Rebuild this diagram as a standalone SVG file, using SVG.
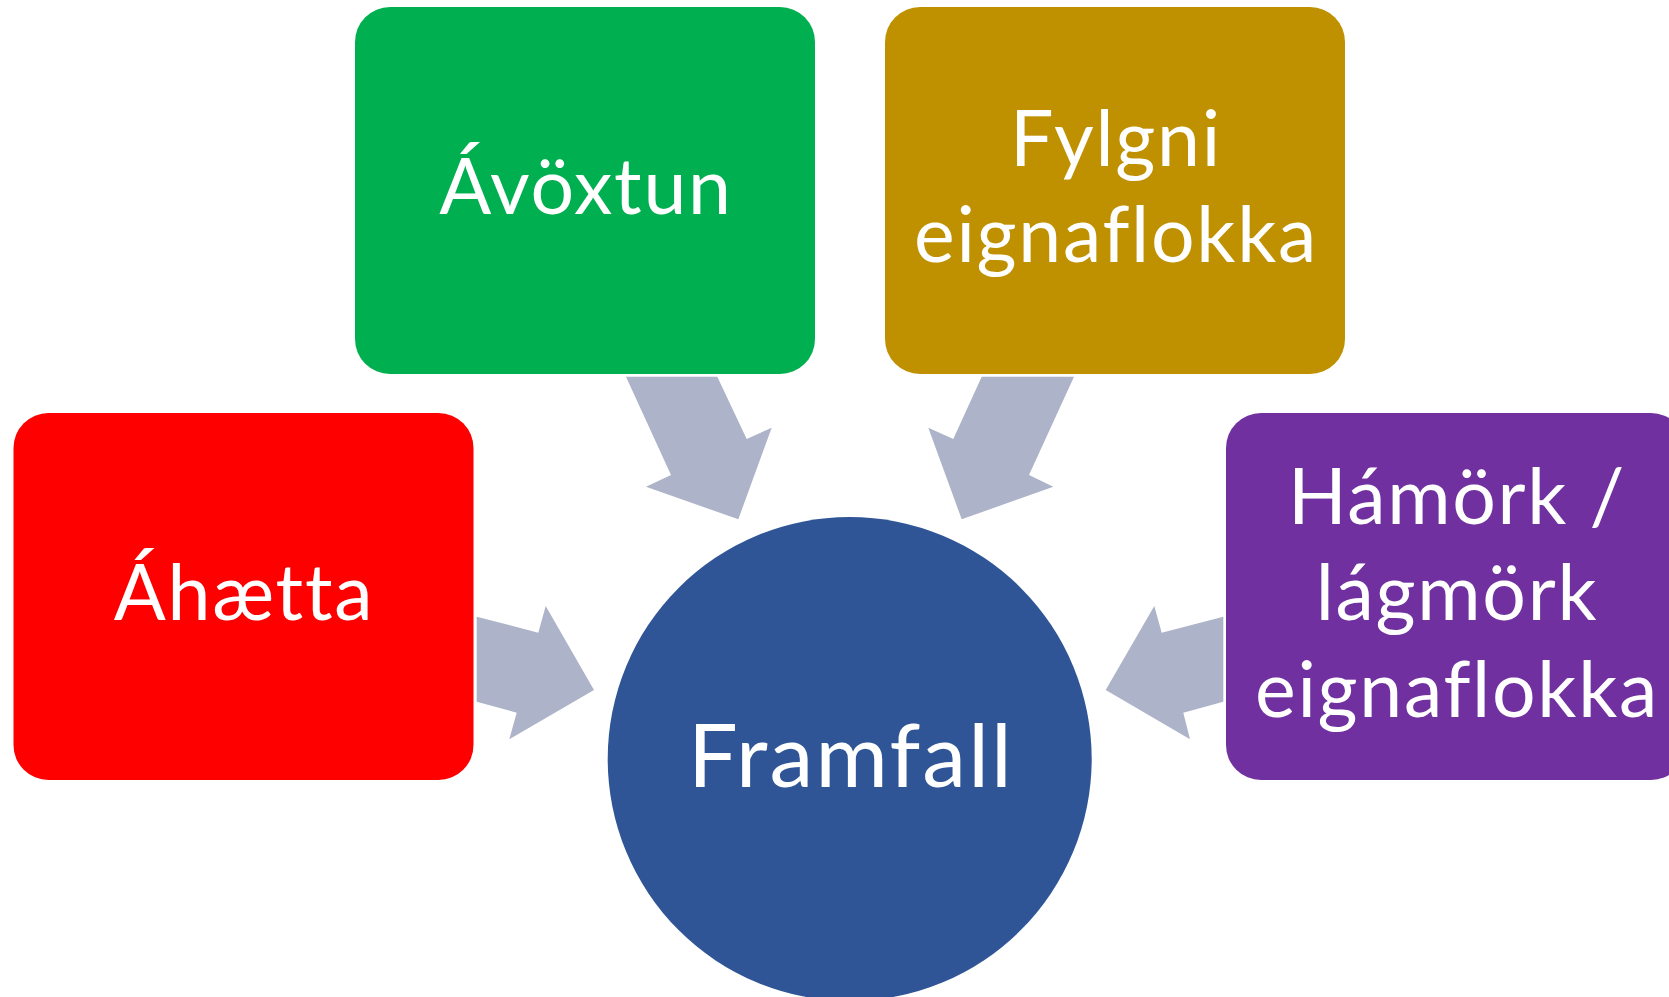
<svg xmlns="http://www.w3.org/2000/svg" width="1669" height="997" viewBox="0 0 1669 997">
<style>
.lbl{font-family:Lato,"Open Sans","Liberation Sans",sans-serif;fill:#ffffff;text-anchor:middle;font-size:77px;letter-spacing:1.7px}
.big{font-size:88px;letter-spacing:2.2px}
.arr{fill:#ADB3C8}
</style>
<rect width="1669" height="997" fill="#ffffff"/>
<g id="connectors">
<polygon class="arr" points="626,376.7 717.3,376.7 746.7,439 771.7,427.7 738.3,519.3 646,486.7 671,475"/>
<polygon class="arr" points="1074,376.7 981.7,376.7 953.3,439 928.3,427.7 961.7,519.3 1053.3,486.7 1029,475"/>
<polygon class="arr" points="476.7,616.7 538.3,632.7 545.7,606 594,690 509.3,739.3 516.7,712.7 476.7,701.7"/>
<polygon class="arr" points="1223.3,616.7 1161.7,632.7 1154.3,606 1105.7,690 1190,739.3 1183.3,712.7 1223.3,701.7"/>
</g>
<g id="node-avoxtun">
<rect x="355" y="7" width="460" height="367" rx="35" fill="#00B050"/>
<text class="lbl" x="586" y="214">Ávöxtun</text>
</g>
<g id="node-fylgni">
<rect x="885" y="7" width="460" height="367" rx="35" fill="#BF9000"/>
<text class="lbl" x="1116" y="166">Fylgni</text>
<text class="lbl" x="1116" y="262">eignaflokka</text>
</g>
<g id="node-ahaetta">
<rect x="13.5" y="413" width="460" height="367" rx="35" fill="#FF0000"/>
<text class="lbl" x="244" y="620">Áhætta</text>
</g>
<g id="node-hamork">
<rect x="1226" y="413" width="460" height="367" rx="35" fill="#7030A0"/>
<text class="lbl" x="1457" y="524">Hámörk /</text>
<text class="lbl" x="1457" y="620">lágmörk</text>
<text class="lbl" x="1457" y="717">eignaflokka</text>
</g>
<g id="node-framfall">
<circle cx="849.7" cy="759" r="242" fill="#2F5597"/>
<text class="lbl big" x="851" y="787">Framfall</text>
</g>
</svg>
